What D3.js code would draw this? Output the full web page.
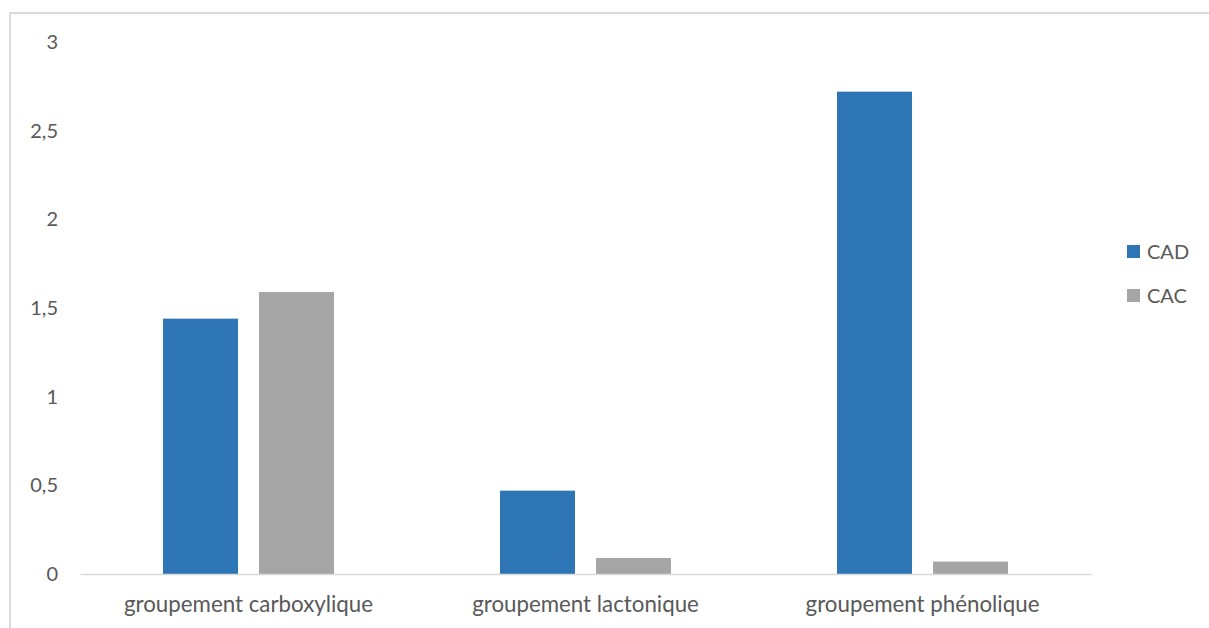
<!DOCTYPE html>
<html>
<head>
<meta charset="utf-8">
<script src="https://cdn.jsdelivr.net/npm/d3@7"></script>
<style>
  html, body { margin: 0; padding: 0; background: #ffffff; }
  svg { display: block; }
  text { font-family: Lato, "Open Sans", sans-serif; fill: #595959; }
</style>
</head>
<body>
<svg id="chart" width="1209" height="628"></svg>
<script>
// Data
const categories = ["groupement carboxylique", "groupement lactonique", "groupement phénolique"];
const seriesNames = ["CAD", "CAC"];
const cadValues = [1.44, 0.47, 2.72];
const cacValues = [1.59, 0.09, 0.07];
const yTicks = [0, 0.5, 1, 1.5, 2, 2.5, 3];
const seriesColors = ["#2E75B6", "#A5A5A5"];

const seriesValues = [cadValues, cacValues];
const rows = categories.map((c, i) => ({
  category: c,
  values: seriesNames.map((s, j) => ({ series: s, value: seriesValues[j][i] }))
}));

const svg = d3.select("#chart");
const W = 1209, H = 628;
const plot = { left: 80, right: 1091, top: 42, bottom: 574 };

// Chart frame (top and left edges)
svg.append("line")
  .attr("x1", 10).attr("x2", W).attr("y1", 13).attr("y2", 13)
  .attr("stroke", "#d9d9d9").attr("stroke-width", 2);
svg.append("line")
  .attr("x1", 10).attr("x2", 10).attr("y1", 12).attr("y2", H)
  .attr("stroke", "#d9d9d9").attr("stroke-width", 2);

const x0 = d3.scaleBand()
  .domain(categories)
  .range([plot.left, plot.right])
  .padding(0);

const x1 = d3.scaleBand()
  .domain(seriesNames)
  .range([0, x0.bandwidth()])
  .paddingInner(0.21875)
  .paddingOuter(0.8646);

const y = d3.scaleLinear()
  .domain([0, 3])
  .range([plot.bottom, plot.top]);

const color = d3.scaleOrdinal().domain(seriesNames).range(seriesColors);

// Y axis labels (no axis line, no gridlines)
const yAxis = d3.axisLeft(y)
  .tickValues(yTicks)
  .tickSize(0)
  .tickPadding(0)
  .tickFormat(d => String(d).replace(".", ","));

const yg = svg.append("g")
  .attr("transform", `translate(58,0)`)
  .call(yAxis);
yg.select(".domain").remove();
yg.selectAll("text")
  .style("font-family", "Lato, 'Open Sans', sans-serif")
  .style("font-size", "20px")
  .attr("fill", "#595959");

// Bars
const groups = svg.append("g").selectAll("g")
  .data(rows)
  .join("g")
  .attr("transform", d => `translate(${x0(d.category)},0)`);

groups.selectAll("rect")
  .data(d => d.values)
  .join("rect")
  .attr("x", d => x1(d.series))
  .attr("width", x1.bandwidth())
  .attr("y", d => y(d.value))
  .attr("height", d => y(0) - y(d.value))
  .attr("fill", d => color(d.series));

// Category axis
const xAxis = d3.axisBottom(x0).tickSize(0).tickPadding(0);
const xg = svg.append("g")
  .attr("transform", `translate(0,${plot.bottom})`)
  .call(xAxis);
xg.select(".domain")
  .attr("stroke", "#d9d9d9")
  .attr("stroke-width", 1.5);
xg.selectAll("text")
  .attr("dy", 0)
  .attr("y", 38)
  .style("font-family", "Lato, 'Open Sans', sans-serif")
  .style("font-size", "22.3px")
  .attr("fill", "#595959");

// Legend
const legend = svg.append("g").selectAll("g")
  .data(seriesNames)
  .join("g")
  .attr("transform", (d, i) => `translate(1127,${245 + i * 44})`);
legend.append("rect")
  .attr("width", 13).attr("height", 13)
  .attr("fill", d => color(d));
legend.append("text")
  .attr("x", 20).attr("y", 6.5)
  .attr("dy", "0.35em")
  .style("font-size", "20px")
  .text(d => d);
</script>
</body>
</html>
